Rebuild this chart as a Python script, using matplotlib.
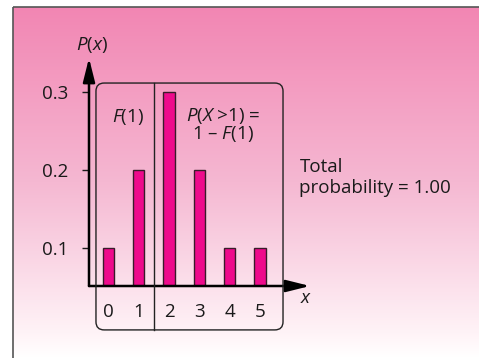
import matplotlib
import matplotlib.pyplot as plt
import numpy as np
from matplotlib.patches import FancyBboxPatch, Rectangle
from matplotlib.colors import LinearSegmentedColormap

matplotlib.use('Agg')

plt.rcParams['font.family'] = ['Open Sans', 'DejaVu Sans']
plt.rcParams['mathtext.fontset'] = 'custom'
plt.rcParams['mathtext.rm'] = 'Open Sans'
plt.rcParams['mathtext.it'] = 'Open Sans:italic'

# Данные распределения
x_values = [0, 1, 2, 3, 4, 5]
probabilities = [0.1, 0.2, 0.3, 0.2, 0.1, 0.1]
y_ticks = [0.1, 0.2, 0.3]

W, H = 479, 358
FS = 13.5
TXT = '#1a1a1a'
fig = plt.figure(figsize=(W / 100, H / 100), dpi=100)

# Фон с градиентом
bg = fig.add_axes([0, 0, 1, 1])
bg.set_xlim(0, W)
bg.set_ylim(H, 0)
bg.axis('off')
cmap = LinearSegmentedColormap.from_list(
    'pink', [(0.0, '#f286b3'), (0.5, '#f5b8d2'), (0.93, '#fff3f7'), (1.0, '#ffffff')])
grad = np.linspace(0, 1, 256).reshape(-1, 1)
bg.imshow(grad, cmap=cmap, aspect='auto', extent=(13, W + 5, H, 7), zorder=0)
bg.add_patch(Rectangle((13, 7), W, H, fill=False, ec='#555555', lw=1.2, zorder=1))

# Основная ось
ax = fig.add_axes([89 / W, 72 / H, 221 / W, 228 / H])
ax.set_facecolor('none')
ax.set_xlim(-0.64, 6.65)
ax.set_ylim(0.0513, 0.3436)
for s in ax.spines.values():
    s.set_visible(False)

ax.bar(x_values, probabilities, width=0.38, color='#ee0a8c',
       edgecolor='#3a1a2a', linewidth=1.0, zorder=2)

# Оси со стрелками
arrow = dict(arrowstyle='-|>,head_length=1.44,head_width=0.36', lw=1.8,
             color='black', shrinkA=0, shrinkB=0)
ax.annotate('', xy=(1, 0), xytext=(0, 0), xycoords='axes fraction', arrowprops=arrow)
ax.annotate('', xy=(0, 1), xytext=(0, 0), xycoords='axes fraction', arrowprops=arrow)

ax.set_yticks(y_ticks)
ax.set_yticklabels([f'{v:.1f}' for v in y_ticks], fontsize=FS, color=TXT)
ax.tick_params(axis='y', length=5, width=1, pad=10, colors=TXT)
ax.set_xticks(x_values)
ax.set_xticklabels([str(v) for v in x_values], fontsize=FS, color=TXT)
ax.tick_params(axis='x', length=0, pad=12)

# Рамка с разделителем
box = FancyBboxPatch((-0.41, -0.005), 6.17, 0.3165,
                     boxstyle='round,pad=0,rounding_size=0.27',
                     mutation_aspect=0.0388, fill=False, ec='#222222', lw=1.0,
                     clip_on=False, zorder=3)
ax.add_patch(box)
ax.plot([1.5, 1.5], [-0.005, 0.3115], color='#222222', lw=1.0, clip_on=False, zorder=3)

# Подписи
ax.text(-0.55, 0.36, '$\\mathit{P}$($\\mathit{x}$)', fontsize=FS, ha='center', va='center',
        color=TXT)
ax.text(6.52, 0.036, '$\\mathit{x}$', fontsize=FS, ha='center', va='center', color=TXT)
ax.text(0.65, 0.268, '$\\mathit{F}$(1)', fontsize=FS, ha='center', va='center', color=TXT)
ax.text(3.78, 0.258, '$\\mathit{P}$($\\mathit{X}$ >1) =\n1 – $\\mathit{F}$(1)', fontsize=FS,
        ha='center', va='center', linespacing=0.85, color=TXT)
ax.text(6.3, 0.19, 'Total\nprobability = 1.00', fontsize=FS, ha='left', va='center',
        linespacing=1.2, color=TXT, clip_on=False)

plt.savefig('out.png', dpi=100)
